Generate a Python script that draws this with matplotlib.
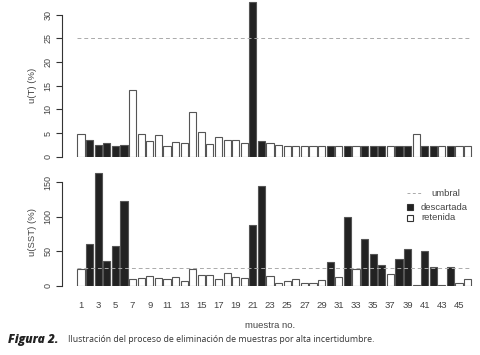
import matplotlib
matplotlib.use("Agg")
import matplotlib.pyplot as plt
from matplotlib.lines import Line2D
import numpy as np

plt.rcParams['font.family'] = ['Liberation Sans', 'DejaVu Sans']

# datos
muestras = np.arange(1, 47)
u_T = [4.7, 3.5, 2.5, 2.8, 2.2, 2.4, 14.0, 4.8, 3.4, 4.5,
       2.3, 3.2, 3.0, 9.5, 5.2, 2.7, 4.1, 3.5, 3.6, 2.8,
       32.6, 3.4, 3.0, 2.5, 2.3, 2.3, 2.3, 2.3, 2.2, 2.2,
       2.2, 2.2, 2.2, 2.2, 2.2, 2.2, 2.2, 2.2, 2.2, 4.8,
       2.2, 2.2, 2.2, 2.2, 2.2, 2.2]
u_SST = [24, 60, 164, 36, 57, 123, 9.7, 10.6, 14, 11.6,
         9.7, 13, 7.3, 23.8, 15, 15, 9.7, 18, 13, 11.2,
         88, 145, 14.5, 4.4, 7.3, 9.2, 3.4, 4.4, 8.3, 34,
         12, 100, 23.8, 68, 46.5, 29.6, 17, 38.3, 54, 0.5,
         51, 26.7, 0.8, 26.7, 3.4, 9.5]
descartadas = [2, 3, 4, 5, 6, 21, 22, 30, 32, 34, 35, 36, 38, 39, 41, 42, 44]
umbral = 25
etiquetas = [str(m) if m % 2 == 1 else '' for m in muestras]

colores = ['#222222' if m in descartadas else 'white' for m in muestras]
ancho = 1 / 1.2
borde = '#555555'
txt = '#444444'
gris = '#aaaaaa'

fig = plt.figure(figsize=(4.8, 3.55), dpi=100)
W, H = 480, 355

def px_axes(x0, x1, ytop, ybot):
    return [x0 / W, 1 - ybot / H, (x1 - x0) / W, (ybot - ytop) / H]

def fx(x):
    return x / W

def fy(y):
    return 1 - y / H

ax1 = fig.add_axes(px_axes(61.7, 487, 0.6, 156.7))
ax2 = fig.add_axes(px_axes(61.7, 487, 168.6, 285.7))

for ax, vals, ymax, ticks, lab in [(ax1, u_T, 33, np.arange(0, 31, 5), 'u(T) (%)'),
                                   (ax2, u_SST, 170, [0, 50, 100, 150], 'u(SST) (%)')]:
    ax.bar(muestras, vals, width=ancho, color=colores, edgecolor=borde, linewidth=0.8)
    ax.hlines(umbral, 1 - ancho / 2, 46 + ancho / 2, colors=gris,
              linestyles=(0, (4, 3)), linewidth=0.7)
    ax.set_xlim(-1.25, 48.25)
    ax.set_ylim(0, ymax)
    for s in ['top', 'right', 'bottom']:
        ax.spines[s].set_visible(False)
    ax.spines['left'].set_bounds(ticks[0], ticks[-1])
    ax.spines['left'].set_color('#333333')
    ax.spines['left'].set_linewidth(0.8)
    ax.set_yticks(ticks)
    ax.set_yticklabels([str(t) for t in ticks], rotation=90, va='center')
    ax.tick_params(axis='y', length=4, width=0.8, color='#333333',
                   labelsize=6.5, labelcolor=txt, pad=2.5)
    ax.set_ylabel(lab, fontsize=6.8, color=txt)

ax1.yaxis.set_label_coords(-0.057, 0.459)
ax2.yaxis.set_label_coords(-0.057, 0.461)

ax1.set_xticks([])
ax2.set_xticks(muestras)
ax2.set_xticklabels(etiquetas)
ax2.tick_params(axis='x', length=0, labelsize=6.8, labelcolor=txt, pad=11)

fig.text(fx(270), fy(326), 'muestra no.', fontsize=6.8, color=txt,
         ha='center', va='center')

# leyenda dibujada a mano
fig.add_artist(Line2D([fx(407), fx(423)], [fy(193.3), fy(193.3)], color=gris,
                      linestyle=(0, (3, 2.5)), linewidth=0.7))
fig.text(fx(431), fy(193.3), 'umbral', fontsize=6.8, color=txt, va='center')
for yy, fc, nombre in [(207.3, '#222222', 'descartada'), (217.7, 'white', 'retenida')]:
    fig.add_artist(Line2D([fx(409.5)], [fy(yy)], marker='s', markersize=4.2,
                          markerfacecolor=fc, markeredgecolor='#333333',
                          markeredgewidth=0.8, linestyle='none'))
    fig.text(fx(421), fy(yy), nombre, fontsize=6.8, color=txt, va='center')

# pie de figura
fig.text(fx(8), fy(340), 'Figura 2.', fontsize=8.6, fontweight='heavy',
         style='italic', color='#222222', va='center', family='Open Sans')
fig.text(fx(68), fy(340),
         'Ilustración del proceso de eliminación de muestras por alta incertidumbre.',
         fontsize=6.3, color='#333333', va='center', family='Open Sans')

fig.savefig('out.png', dpi=100)
